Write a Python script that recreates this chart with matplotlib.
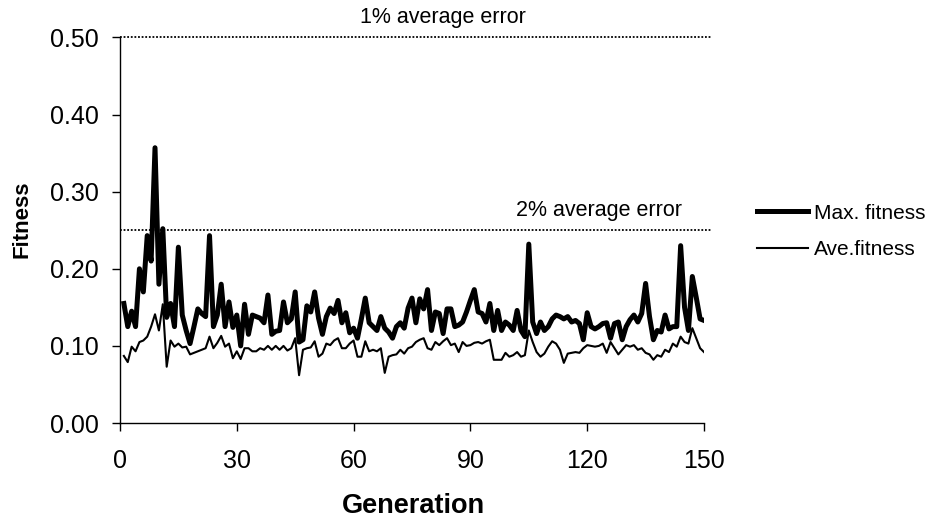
import numpy as np
import matplotlib.pyplot as plt

plt.rcParams['font.family'] = ['Liberation Sans', 'DejaVu Sans']

generations = np.arange(1, 151)

max_fitness = [
    0.155, 0.125, 0.145, 0.125, 0.200, 0.170, 0.243, 0.210, 0.357, 0.180,
    0.252, 0.137, 0.155, 0.125, 0.228, 0.140, 0.120, 0.103, 0.125, 0.148,
    0.142, 0.138, 0.243, 0.125, 0.140, 0.180, 0.125, 0.157, 0.124, 0.140,
    0.100, 0.154, 0.115, 0.140, 0.138, 0.136, 0.130, 0.166, 0.115, 0.119,
    0.120, 0.157, 0.130, 0.135, 0.170, 0.105, 0.108, 0.152, 0.144, 0.170,
    0.136, 0.115, 0.138, 0.149, 0.142, 0.159, 0.130, 0.143, 0.117, 0.123,
    0.110, 0.135, 0.162, 0.130, 0.125, 0.120, 0.138, 0.123, 0.118, 0.110,
    0.125, 0.130, 0.123, 0.149, 0.162, 0.130, 0.161, 0.148, 0.173, 0.120,
    0.144, 0.142, 0.116, 0.148, 0.148, 0.125, 0.127, 0.131, 0.144, 0.159,
    0.173, 0.144, 0.142, 0.131, 0.155, 0.120, 0.146, 0.120, 0.131, 0.127,
    0.120, 0.146, 0.120, 0.112, 0.232, 0.131, 0.116, 0.131, 0.120, 0.125,
    0.135, 0.140, 0.138, 0.135, 0.138, 0.131, 0.133, 0.129, 0.108, 0.143,
    0.125, 0.122, 0.125, 0.129, 0.130, 0.110, 0.129, 0.131, 0.108, 0.125,
    0.134, 0.140, 0.131, 0.142, 0.181, 0.138, 0.108, 0.120, 0.118, 0.140,
    0.122, 0.125, 0.125, 0.230, 0.150, 0.120, 0.190, 0.163, 0.135, 0.133,
]

ave_fitness = [
    0.087, 0.079, 0.099, 0.093, 0.105, 0.107, 0.112, 0.125, 0.141, 0.120,
    0.154, 0.073, 0.107, 0.099, 0.103, 0.098, 0.099, 0.089, 0.091, 0.093,
    0.095, 0.097, 0.112, 0.097, 0.104, 0.113, 0.099, 0.103, 0.084, 0.093,
    0.083, 0.097, 0.097, 0.093, 0.093, 0.097, 0.095, 0.100, 0.095, 0.100,
    0.095, 0.100, 0.094, 0.097, 0.110, 0.062, 0.095, 0.097, 0.098, 0.106,
    0.086, 0.090, 0.103, 0.101, 0.107, 0.110, 0.097, 0.097, 0.103, 0.107,
    0.086, 0.086, 0.106, 0.093, 0.095, 0.093, 0.097, 0.065, 0.086, 0.088,
    0.089, 0.095, 0.090, 0.097, 0.099, 0.105, 0.108, 0.110, 0.097, 0.095,
    0.105, 0.101, 0.106, 0.110, 0.101, 0.103, 0.092, 0.105, 0.100, 0.101,
    0.104, 0.105, 0.103, 0.106, 0.108, 0.082, 0.082, 0.082, 0.091, 0.086,
    0.088, 0.092, 0.086, 0.088, 0.120, 0.105, 0.092, 0.086, 0.090, 0.099,
    0.106, 0.103, 0.095, 0.078, 0.090, 0.091, 0.092, 0.091, 0.097, 0.101,
    0.100, 0.099, 0.100, 0.103, 0.091, 0.105, 0.097, 0.089, 0.095, 0.101,
    0.099, 0.101, 0.095, 0.097, 0.091, 0.089, 0.082, 0.088, 0.086, 0.095,
    0.092, 0.103, 0.099, 0.112, 0.105, 0.103, 0.123, 0.110, 0.097, 0.092,
]

error_levels = [0.50, 0.25]
error_labels = ['1% average error', '2% average error']
error_label_x = [83, 123]

fig = plt.figure(figsize=(9.3, 5.2), dpi=100)
fig.patch.set_facecolor('white')
ax = fig.add_axes([0.129, 0.1865, 0.628, 0.7415])

l_max, = ax.plot(generations, max_fitness, color='black', lw=3.6,
                 solid_joinstyle='round', label='Max. fitness')
l_ave, = ax.plot(generations, ave_fitness, color='black', lw=1.5,
                 solid_joinstyle='round', label='Ave.fitness')

# error reference lines with their captions
for lvl, txt, tx in zip(error_levels, error_labels, error_label_x):
    ax.plot([0, 152], [lvl, lvl], color='black', lw=1.3,
            linestyle=(0, (1, 1)), clip_on=False)
    ax.text(tx, lvl + 0.026, txt, ha='center', va='center', fontsize=15.5)

ax.set_xlim(0, 150)
ax.set_ylim(0, 0.5)
ax.set_xticks([0, 30, 60, 90, 120, 150])
ax.set_yticks([0.0, 0.1, 0.2, 0.3, 0.4, 0.5])
ax.set_yticklabels([f'{v:.2f}' for v in ax.get_yticks()])
ax.tick_params(labelsize=18, length=6, width=1, direction='out')
ax.tick_params(axis='y', pad=9)
ax.tick_params(axis='x', pad=13)
for s in ['top', 'right']:
    ax.spines[s].set_visible(False)
for s in ['left', 'bottom']:
    ax.spines[s].set_linewidth(1)

fig.text(0.445, 0.027, 'Generation', ha='center', va='center',
         fontsize=19.5, fontweight='bold')
fig.text(0.024, 0.579, 'Fitness', ha='center', va='center',
         fontsize=16, fontweight='bold', rotation=90)

fig.legend(handles=[l_max, l_ave], loc='center left',
           bbox_to_anchor=(0.814, 0.555), frameon=False, fontsize=15,
           borderpad=0, borderaxespad=0, handlelength=2.45,
           handletextpad=0.3, labelspacing=0.85)

fig.savefig('out.png', dpi=100)
